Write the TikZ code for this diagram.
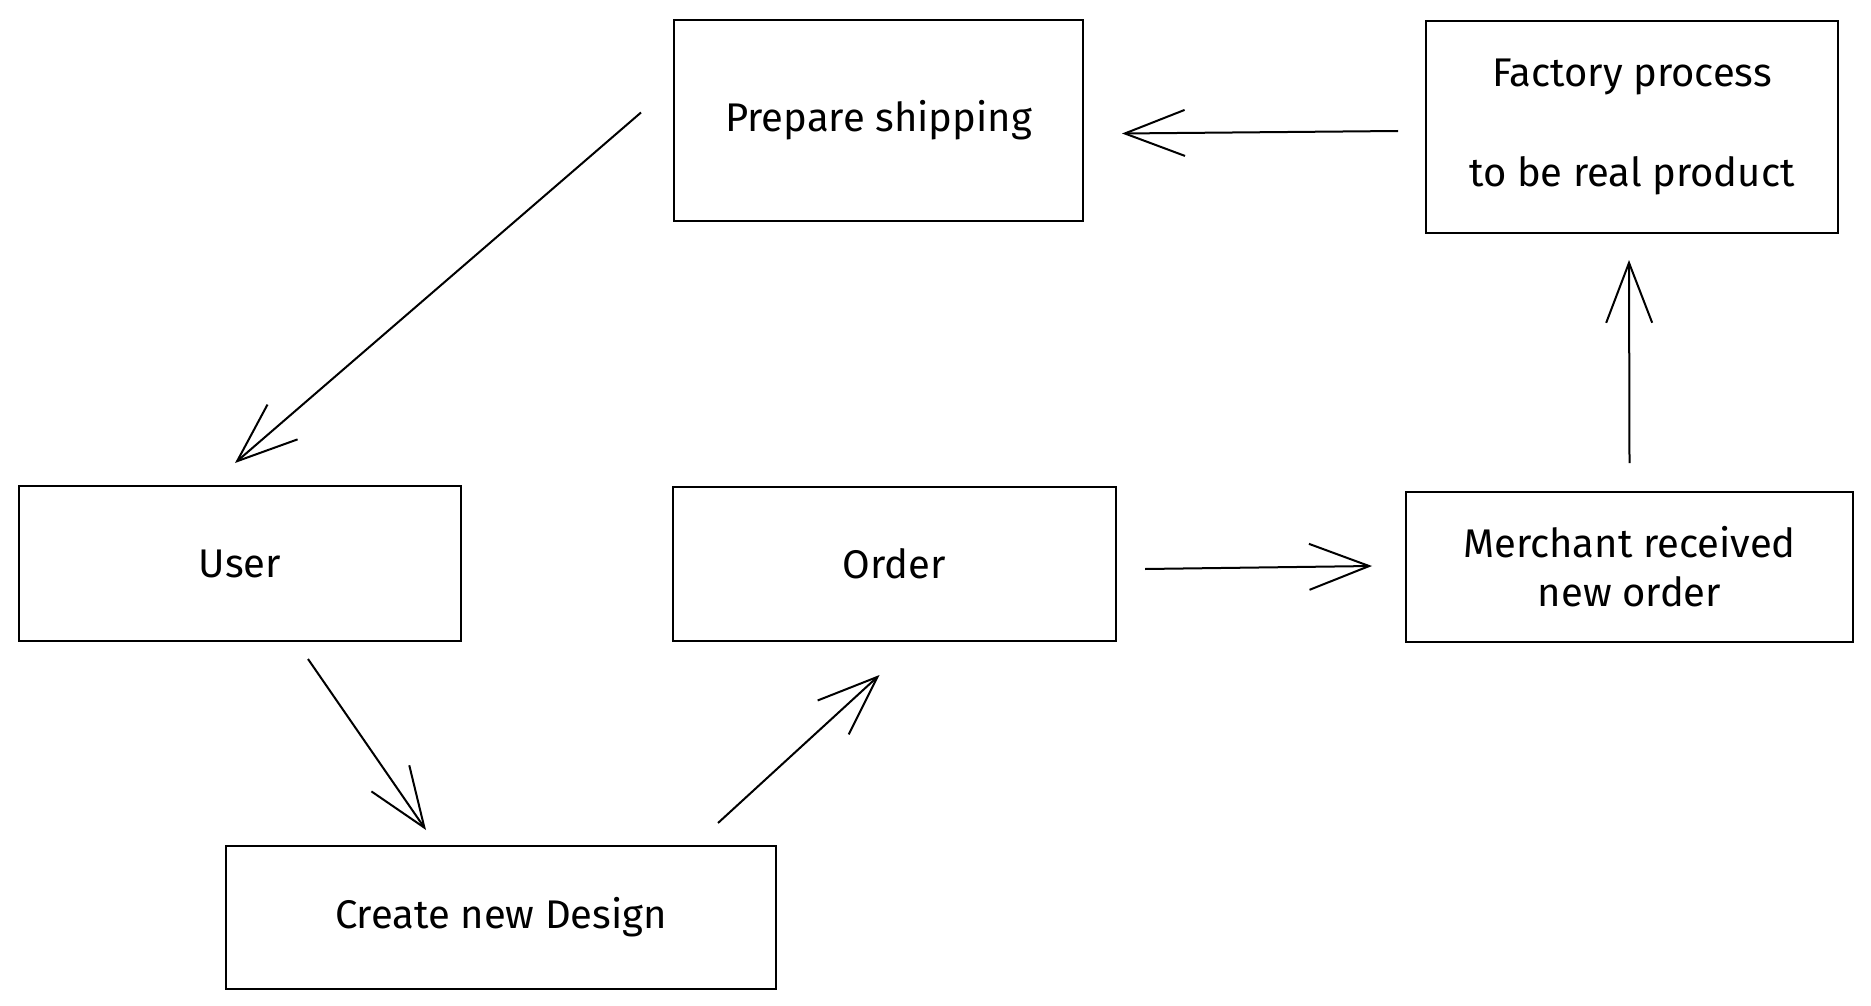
\documentclass[tikz,border=0pt]{standalone}
\usepackage{fontspec}
\setmainfont{Fira Sans}
\usetikzlibrary{arrows.meta,calc}
\tikzset{
  box/.style={draw,line width=2.6pt,inner sep=0pt,outer sep=0pt,align=center,
    font=\fontsize{40}{46}\selectfont},
  flow/.style={line width=2pt,-{Straight Barb[length=60pt,width=46pt,line width=2pt]}}
}
\begin{document}
\begin{tikzpicture}[x=1pt,y=-1pt]
\useasboundingbox (0,0) rectangle (1871,1006);
\node[box,minimum width=409pt,minimum height=201pt] (ship) at (878.5,120.5) {Prepare shipping};
\node[box,minimum width=412pt,minimum height=212pt] (fact) at (1632,127) {Factory process\\[54pt]to be real product};
\node[box,minimum width=442pt,minimum height=155pt] (user) at (240,563.5) {User};
\node[box,minimum width=443pt,minimum height=154pt] (order) at (894.5,564) {Order};
\node[box,minimum width=447pt,minimum height=150pt] (merch) at (1629.5,567) {Merchant received\\[3pt]new order};
\node[box,minimum width=550pt,minimum height=143pt] (design) at (501,917.5) {Create new Design};
%connectors
\draw[flow] ($(ship.west)+(-33,-8)$) -- ($(user.north)+(-5,-23)$);
\draw[flow] ($(fact.west)+(-28,4)$) -- ($(ship.east)+(39,13)$);
\draw[flow] ($(merch.north)+(0,-29)$) -- ($(fact.south)+(-3,27)$);
\draw[flow] ($(order.east)+(29,5)$) -- ($(merch.west)+(-34,-1)$);
\draw[flow] ($(user.south)+(68,18)$) -- ($(design.north)+(-75,-16)$);
\draw[flow] ($(design.north east)+(-58,-23)$) -- ($(order.south)+(-15,34)$);
\end{tikzpicture}
\end{document}
